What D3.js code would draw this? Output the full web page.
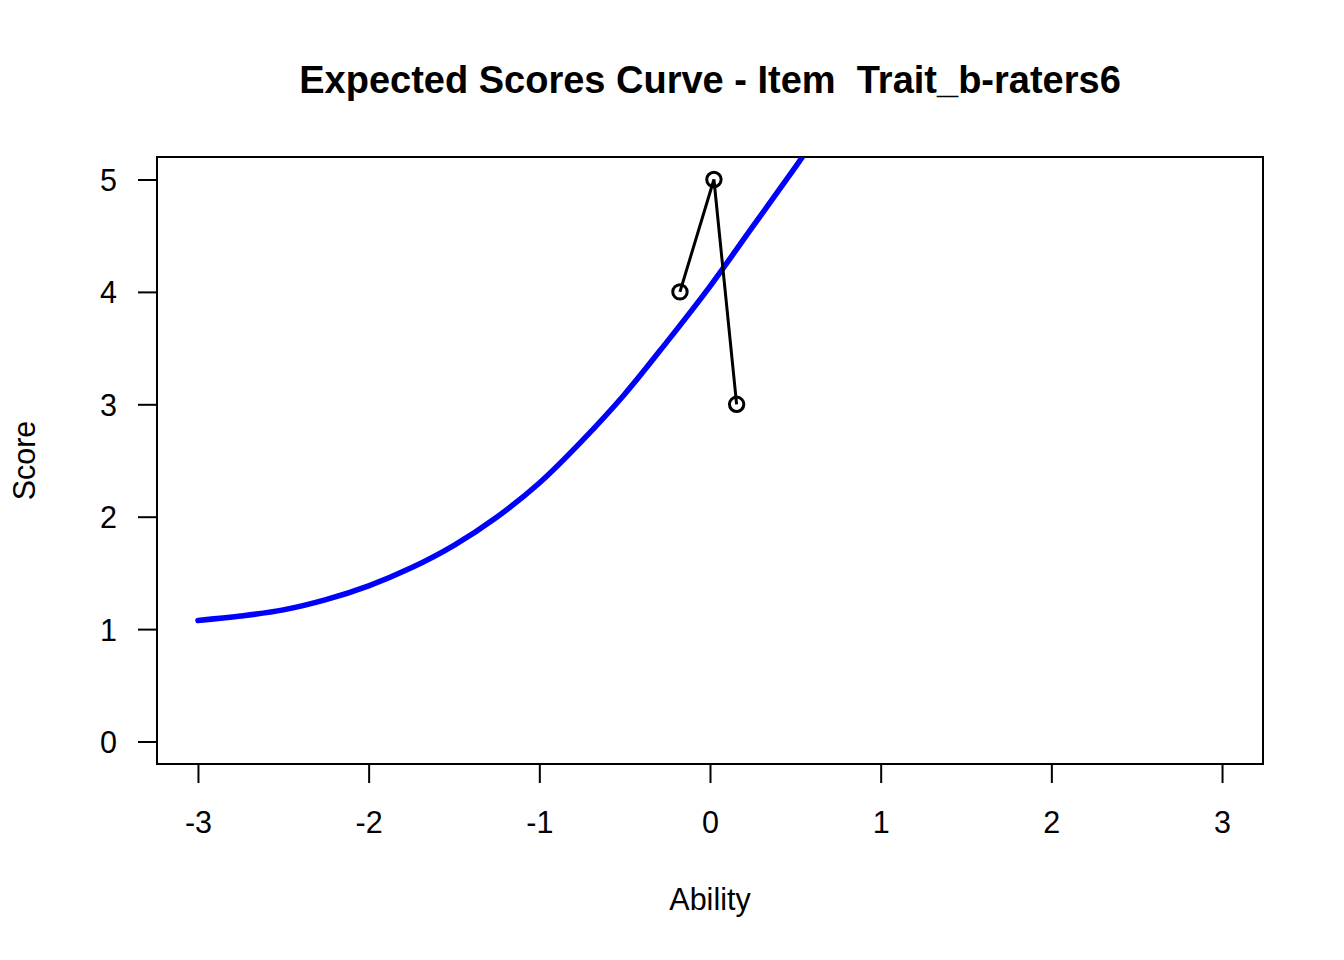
<!DOCTYPE html>
<html>
<head>
<meta charset="utf-8">
<script src="https://cdn.jsdelivr.net/npm/d3@7"></script>
<style>
  html, body { margin: 0; padding: 0; background: #fff; }
  svg { display: block; }
  text { font-family: "Liberation Sans", Arial, Helvetica, sans-serif; fill: #000; white-space: pre; }
</style>
</head>
<body>
<script>
// ---- data ----
const titleText = "Expected Scores Curve - Item  Trait_b-raters6";
const xLabel = "Ability";
const yLabel = "Score";
const xTicks = [-3, -2, -1, 0, 1, 2, 3];
const yTicks = [0, 1, 2, 3, 4, 5];
// expected score curve
const curveAbility = [-3, -2.75, -2.5, -2.25, -2, -1.75, -1.5, -1.25, -1, -0.75, -0.5, -0.25, 0, 0.25, 0.5, 0.6];
const curveScore   = [1.077, 1.116, 1.171, 1.262, 1.385, 1.545, 1.745, 1.995, 2.30, 2.675, 3.09, 3.56, 4.05, 4.58, 5.11, 5.33];
// observed points
const obsAbility = [-0.176, 0.023, 0.156];
const obsScore   = [4, 5, 3];

// ---- layout ----
const W = 1344, H = 960;
const plot = { left: 157, right: 1263, top: 157, bottom: 764 };

const x = d3.scaleLinear().domain([-3.24, 3.24]).range([plot.left, plot.right]);
const y = d3.scaleLinear().domain([-0.2, 5.2]).range([plot.bottom, plot.top]);

const svg = d3.select("body").append("svg").attr("width", W).attr("height", H);

svg.append("defs").append("clipPath").attr("id", "clip")
  .append("rect")
  .attr("x", plot.left).attr("y", plot.top)
  .attr("width", plot.right - plot.left).attr("height", plot.bottom - plot.top);

// title
svg.append("text")
  .attr("x", (plot.left + plot.right) / 2).attr("y", 93)
  .attr("text-anchor", "middle")
  .style("font-size", "38px").style("font-weight", "bold")
  .text(titleText);

// axes
const xAxis = d3.axisBottom(x).tickValues(xTicks).tickSize(19).tickPadding(28).tickFormat(d3.format("d"));
const gx = svg.append("g").attr("transform", `translate(0,${plot.bottom})`).call(xAxis);
gx.select(".domain").remove();
gx.selectAll("line").attr("stroke", "#000").attr("stroke-width", 2);
gx.selectAll("text").style("font-size", "30.5px").attr("fill", "#000").text(d => d < 0 ? "-" + Math.abs(d) : d);

const yAxis = d3.axisLeft(y).tickValues(yTicks).tickSize(19).tickPadding(21).tickFormat(d3.format("d"));
const gy = svg.append("g").attr("transform", `translate(${plot.left},0)`).call(yAxis);
gy.select(".domain").remove();
gy.selectAll("line").attr("stroke", "#000").attr("stroke-width", 2);
gy.selectAll("text").style("font-size", "30.5px").attr("fill", "#000").attr("dy", "0.36em");

// box
svg.append("rect")
  .attr("x", plot.left).attr("y", plot.top)
  .attr("width", plot.right - plot.left).attr("height", plot.bottom - plot.top)
  .attr("fill", "none").attr("stroke", "#000").attr("stroke-width", 2);

// axis labels
svg.append("text")
  .attr("x", (plot.left + plot.right) / 2).attr("y", 910)
  .attr("text-anchor", "middle").style("font-size", "30.5px")
  .text(xLabel);
svg.append("text")
  .attr("transform", `translate(35,${(plot.top + plot.bottom) / 2}) rotate(-90)`)
  .attr("text-anchor", "middle").style("font-size", "30.5px")
  .text(yLabel);

const clipped = svg.append("g").attr("clip-path", "url(#clip)");

// expected curve
const curveData = curveAbility.map((a, i) => [a, curveScore[i]]);
clipped.append("path")
  .datum(curveData)
  .attr("fill", "none").attr("stroke", "#0000ff").attr("stroke-width", 5.5)
  .attr("stroke-linecap", "round")
  .attr("d", d3.line().x(d => x(d[0])).y(d => y(d[1])).curve(d3.curveCatmullRom));

// observed
const obsData = obsAbility.map((a, i) => [a, obsScore[i]]);
clipped.append("path")
  .datum(obsData)
  .attr("fill", "none").attr("stroke", "#000").attr("stroke-width", 3)
  .attr("d", d3.line().x(d => x(d[0])).y(d => y(d[1])));
clipped.selectAll("circle.obs").data(obsData).enter().append("circle")
  .attr("class", "obs")
  .attr("cx", d => x(d[0])).attr("cy", d => y(d[1])).attr("r", 7.2)
  .attr("fill", "none").attr("stroke", "#000").attr("stroke-width", 3);
</script>
</body>
</html>
